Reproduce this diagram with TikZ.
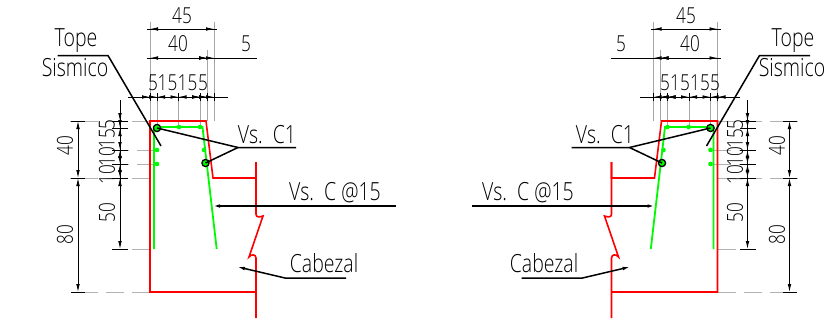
\documentclass[tikz,border=0pt]{standalone}
\usepackage{fontspec}
\setmainfont{Open Sans Light}
\usetikzlibrary{arrows.meta}
\definecolor{rebargreen}{RGB}{0,250,0}
\tikzset{
  wall/.style={red,line width=1.6pt},
  rebar/.style={rebargreen,line width=1.8pt},
  leader/.style={black,line width=1.5pt},
  dimline/.style={black,line width=0.8pt,{Latex[length=8pt,width=3.6pt]}-{Latex[length=8pt,width=3.6pt]}},
  tick/.style={black,line width=0.8pt},
  extline/.style={gray!70,line width=0.9pt},
  extdash/.style={gray!60,line width=0.9pt,dash pattern=on 18pt off 8pt},
  dimtext/.style={inner sep=0pt,font=\fontsize{22}{22}\selectfont,text=black},
  notetext/.style={inner sep=0pt,font=\fontsize{25}{25}\selectfont,text=black}
}
\newcommand{\squeezed}[1]{\scalebox{0.78}[1]{#1}}
% one half of the drawing, mirrored for the other side
\newcommand{\halfdetail}{
  % extension lines
  \draw[extline] (150,22) -- (150,121);
  \draw[extline] (157,97) -- (157,128);
  \draw[extline] (178.5,97) -- (178.5,127);
  \draw[extline] (200,97) -- (200,127);
  \draw[extline] (207,50) -- (207,121);
  \draw[extline] (214,22) -- (214,121);
  \draw[extdash] (150,121) -- (70,121);
  \draw[extdash] (150,178) -- (70,178);
  \draw[extdash] (150,292) -- (85,292);
  \draw[extdash] (155,150) -- (128,150);
  \draw[extdash] (155,164) -- (128,164);
  \draw[extdash] (150,249) -- (128,249);
  % concrete
  \draw[wall] (256,162) -- (256,178) -- (213,178) -- (206,121) -- (150,121) -- (150,292) -- (256,292);
  \draw[wall] (256,162) -- (256,214) .. controls (256,218) and (260,217) .. (263,216) -- (249,257) .. controls (251,254) and (256,254) .. (256,258) -- (256,318);
  % rebar
  \draw[rebar] (154,249) -- (154,127) -- (202.5,127) -- (216.7,249);
  \foreach \px/\py in {157/127,179/127,200/127,157/150,157/164,204/150}
    \fill[rebargreen] (\px,\py) circle (2.3pt);
  \draw[black,line width=1.3pt,fill=rebargreen] (157,128) circle (3.6pt);
  \draw[black,line width=1.3pt,fill=rebargreen] (205.5,163) circle (3.6pt);
  % top dimensions
  \draw[dimline] (150,29) -- (214,29);
  \draw[tick] (147,29) -- (217,29);
  \draw[dimline] (150,58) -- (207,58);
  \draw[dimline] (207,58) -- (214,58);
  \draw[tick] (147,58) -- (257,58);
  \foreach \xa/\xb in {150/157,157/178.5,178.5/200,200/207,207/214}
    \draw[dimline] (\xa,97) -- (\xb,97);
  \draw[tick] (128,97) -- (228,97);
  \foreach \xa in {150,157,178.5,200,207,214}
    \draw[tick] (\xa,93) -- (\xa,101);
  % side dimensions
  \draw[dimline] (78,121) -- (78,178);
  \draw[dimline] (78,178) -- (78,292);
  \foreach \ya in {121,178,292}
    \draw[tick] (71,\ya) -- (85,\ya);
  \foreach \ya/\yb in {121/128,128/150,150/164,164/178,178/249}
    \draw[dimline] (120,\ya) -- (120,\yb);
  \draw[tick] (120,100) -- (120,192);
  \foreach \ya in {121,128,150,164,178,249}
    \draw[tick] (112,\ya) -- (128,\ya);
  % leaders
  \draw[leader] (57.5,55.5) -- (108,55.5) -- (161,146);
  \draw[leader] (296,147.5) -- (238,147.5) -- (157,128);
  \draw[leader] (238,147.5) -- (205.5,163);
  \draw[leader,-{Latex[length=8pt,width=3.5pt]}] (396,206) -- (212,206);
  \draw[leader,-{Latex[length=9pt,width=3.5pt]}] (346,278) -- (285,278) -- (236,266.5);
}
\begin{document}
\begin{tikzpicture}[x=1pt,y=-1pt]
  \useasboundingbox (0,0) rectangle (830,324);
  \fill[white] (0,0) rectangle (830,324);
  \halfdetail
  \begin{scope}[xshift=867.5pt,xscale=-1]
    \halfdetail
  \end{scope}
  % left labels
  \node[notetext] (topeL) at (76,41) {\squeezed{Tope}};
  \node[notetext] (sismicoL) at (75,68) {\squeezed{Sismico}};
  \node[notetext] (vsL) at (267,135) {\squeezed{Vs.\ \ C1}};
  \node[notetext] (vsCL) at (335,193) {\squeezed{Vs.\ \ C @15}};
  \node[notetext] (cabezalL) at (324,263) {\squeezed{Cabezal}};
  \node[dimtext] (d45L) at (182,16) {\squeezed{45}};
  \node[dimtext] (d40L) at (178,44) {\squeezed{40}};
  \node[dimtext] (d5L) at (246,44) {\squeezed{5}};
  \node[dimtext] (a5L) at (153,83) {\squeezed{5}};
  \node[dimtext] (a15L) at (167.5,83) {\squeezed{15}};
  \node[dimtext] (b15L) at (187.5,83) {\squeezed{15}};
  \node[dimtext] (b5L) at (203,83) {\squeezed{5}};
  \node[dimtext,rotate=90] (s40L) at (65,146) {\squeezed{40}};
  \node[dimtext,rotate=90] (s80L) at (65,235) {\squeezed{80}};
  \node[dimtext,rotate=90] (s50L) at (107,213) {\squeezed{50}};
  \node[dimtext,rotate=90] (r5L) at (107,125) {\squeezed{5}};
  \node[dimtext,rotate=90] (r15L) at (107,139) {\squeezed{15}};
  \node[dimtext,rotate=90] (r10L) at (107,157) {\squeezed{10}};
  \node[dimtext,rotate=90] (q10L) at (107,175) {\squeezed{10}};
  % right labels
  \node[notetext] (topeR) at (793,41) {\squeezed{Tope}};
  \node[notetext] (sismicoR) at (792,68) {\squeezed{Sismico}};
  \node[notetext] (vsR) at (605,135) {\squeezed{Vs.\ \ C1}};
  \node[notetext] (vsCR) at (528,193) {\squeezed{Vs.\ \ C @15}};
  \node[notetext] (cabezalR) at (544,263) {\squeezed{Cabezal}};
  \node[dimtext] (d45R) at (686,16) {\squeezed{45}};
  \node[dimtext] (d40R) at (690,44) {\squeezed{40}};
  \node[dimtext] (d5R) at (621,44) {\squeezed{5}};
  \node[dimtext] (a5R) at (665,83) {\squeezed{5}};
  \node[dimtext] (a15R) at (680,83) {\squeezed{15}};
  \node[dimtext] (b15R) at (700,83) {\squeezed{15}};
  \node[dimtext] (b5R) at (715,83) {\squeezed{5}};
  \node[dimtext,rotate=90] (s40R) at (777,146) {\squeezed{40}};
  \node[dimtext,rotate=90] (s80R) at (777,235) {\squeezed{80}};
  \node[dimtext,rotate=90] (s50R) at (735,213) {\squeezed{50}};
  \node[dimtext,rotate=90] (r5R) at (735,125) {\squeezed{5}};
  \node[dimtext,rotate=90] (r15R) at (735,139) {\squeezed{15}};
  \node[dimtext,rotate=90] (r10R) at (735,157) {\squeezed{10}};
  \node[dimtext,rotate=90] (q10R) at (735,175) {\squeezed{10}};
\end{tikzpicture}
\end{document}
